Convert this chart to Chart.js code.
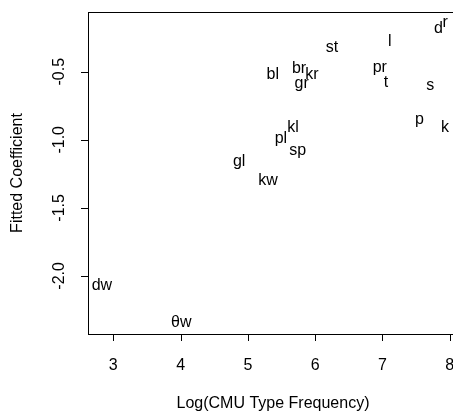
<!DOCTYPE html>
<html>
<head>
<meta charset="utf-8">
<script src="https://cdn.jsdelivr.net/npm/chart.js@4"></script>
<style>
  html, body { margin: 0; padding: 0; background: #fff; overflow: hidden; }
  #wrap { width: 470px; height: 414px; }
</style>
</head>
<body>
<div id="wrap"><canvas id="c" width="470" height="414"></canvas></div>
<script>
// onset labels with log frequency (x) and fitted coefficient (y)
const labels = ["d", "r", "st", "l", "pr", "t", "s", "bl", "br", "kr", "gr",
  "p", "k", "kl", "pl", "sp", "gl", "kw", "dw", "θw"];
const logFreq = [7.83, 7.93, 6.25, 7.11, 6.96, 7.05, 7.71, 5.37, 5.76, 5.95, 5.80,
  7.55, 7.93, 5.67, 5.49, 5.74, 4.87, 5.30, 2.83, 4.01];
const coef = [-0.18, -0.14, -0.32, -0.28, -0.47, -0.58, -0.60, -0.52, -0.48, -0.52, -0.59,
  -0.85, -0.91, -0.91, -0.99, -1.08, -1.16, -1.30, -2.07, -2.34];

const xTicks = [3, 4, 5, 6, 7, 8];
const yTicks = [-2.0, -1.5, -1.0, -0.5];

const FONT = '16px "Liberation Sans", Arial, sans-serif';

const rPlot = {
  id: "rPlot",
  afterDatasetsDraw(chart) {
    const { ctx, chartArea: a, scales } = chart;
    const xs = scales.x, ys = scales.y;
    ctx.save();
    ctx.fillStyle = "#000";
    ctx.font = FONT;
    ctx.textAlign = "center";
    ctx.textBaseline = "middle";
    const meta = chart.getDatasetMeta(0);
    meta.data.forEach((pt, i) => {
      ctx.fillText(labels[i], pt.x, pt.y);
    });

    // box
    ctx.strokeStyle = "#000";
    ctx.lineWidth = 1;
    ctx.strokeRect(Math.round(a.left) + 0.5, Math.round(a.top) + 0.5,
      Math.round(a.right - a.left), Math.round(a.bottom - a.top));

    // x axis ticks and labels
    ctx.beginPath();
    xTicks.forEach((v) => {
      const px = Math.round(xs.getPixelForValue(v)) + 0.5;
      ctx.moveTo(px, a.bottom);
      ctx.lineTo(px, a.bottom + 7);
    });
    yTicks.forEach((v) => {
      const py = Math.round(ys.getPixelForValue(v)) + 0.5;
      ctx.moveTo(a.left, py);
      ctx.lineTo(a.left - 7, py);
    });
    ctx.stroke();

    xTicks.forEach((v) => {
      ctx.fillText(String(v), xs.getPixelForValue(v), 366);
    });
    yTicks.forEach((v) => {
      ctx.save();
      ctx.translate(60, ys.getPixelForValue(v));
      ctx.rotate(-Math.PI / 2);
      ctx.fillText(v.toFixed(1), 0, 0);
      ctx.restore();
    });

    // axis titles
    ctx.fillText("Log(CMU Type Frequency)", (a.left + a.right) / 2, 404);
    ctx.save();
    ctx.translate(18, (a.top + a.bottom) / 2);
    ctx.rotate(-Math.PI / 2);
    ctx.fillText("Fitted Coefficient", 0, 0);
    ctx.restore();
    ctx.restore();
  }
};

new Chart(document.getElementById("c"), {
  type: "scatter",
  data: {
    datasets: [{
      data: logFreq.map((x, i) => ({ x, y: coef[i] })),
      pointRadius: 0,
      pointHoverRadius: 0
    }]
  },
  options: {
    responsive: false,
    animation: false,
    events: [],
    layout: { padding: { left: 88, top: 12, right: 12, bottom: 80 } },
    plugins: { legend: { display: false }, tooltip: { enabled: false } },
    scales: {
      x: { type: "linear", display: false, min: 2.624, max: 8.122 },
      y: { type: "linear", display: false, min: -2.427, max: -0.061 }
    }
  },
  plugins: [rPlot]
});
</script>
</body>
</html>
